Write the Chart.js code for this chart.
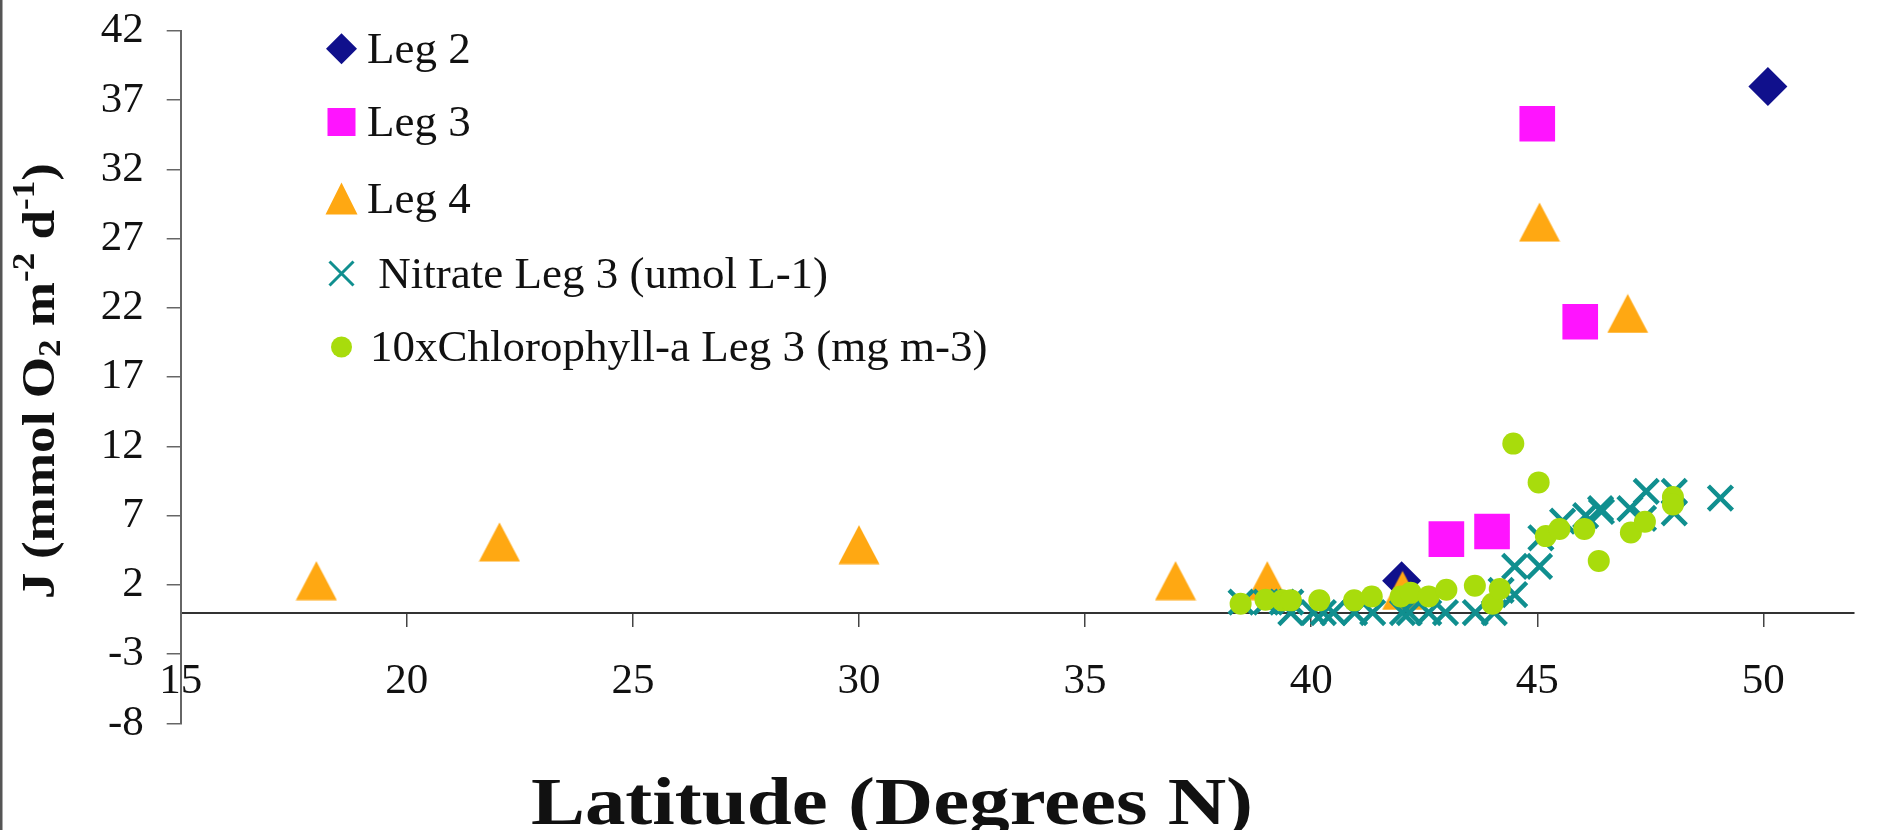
<!DOCTYPE html>
<html>
<head>
<meta charset="utf-8">
<script src="https://cdn.jsdelivr.net/npm/chart.js@4.4.1/dist/chart.umd.min.js"></script>
<style>
html,body{margin:0;padding:0;background:#fff;}
#wrap{width:1879px;height:830px;position:relative;}
canvas{display:block;}
</style>
</head>
<body>
<div id="wrap"><canvas id="c" width="1879" height="830"></canvas></div>
<script>
// ---- data ----
const xTickValues = [15, 20, 25, 30, 35, 40, 45, 50];
const yTickValues = [-8, -3, 2, 7, 12, 17, 22, 27, 32, 37, 42];

const seriesNames = ['Leg 2', 'Leg 3', 'Leg 4', ' Nitrate Leg 3 (umol L-1)', '10xChlorophyll-a Leg 3 (mg m-3)'];

const leg2 = [[42.0, 2.3], [50.1, 38.0]];
const leg3 = [[45.0, 35.3], [45.95, 21.0], [42.99, 5.3], [44.0, 5.85]];
const leg4 = [[18.0, 2.3], [22.05, 5.1], [30.0, 4.9], [37.0, 2.3], [39.03, 2.3], [42.02, 1.6], [45.05, 28.2], [47.0, 21.6]];
const nitrate = [
  [38.45, 0.75], [39.0, 0.75], [39.36, 0.75], [39.55, 0.75], [39.55, 0], [40.05, 0], [40.27, 0], [40.49, 0],
  [40.96, 0], [41.36, 0], [42.02, 0], [42.17, 0], [42.6, 0], [42.97, 0], [43.63, 0], [44.05, 0],
  [44.2, 1.6], [44.5, 1.3], [44.5, 3.33], [45.05, 3.33], [45.08, 5.4], [45.56, 6.6], [46.07, 7.0],
  [46.4, 7.5], [46.42, 7.3], [47.05, 7.5], [47.35, 6.8], [47.41, 8.75], [48.03, 8.75], [48.03, 7.2], [49.05, 8.27]
];
const chlorophyll = [
  [38.44, 0.64], [38.99, 0.92], [39.36, 0.88], [39.55, 0.88], [40.18, 0.88], [40.95, 0.88], [41.34, 1.16],
  [41.98, 1.16], [42.2, 1.42], [42.6, 1.16], [42.99, 1.65], [43.62, 1.93], [44.01, 0.64], [44.17, 1.7],
  [44.47, 12.2], [45.03, 9.4], [45.19, 5.52], [45.49, 6.03], [46.04, 6.04], [46.36, 3.73], [47.07, 5.78],
  [47.38, 6.56], [48.0, 8.35], [48.0, 7.8]
];

const xTitle = 'Latitude (Degrees N)';
const yTitleParts = [
  ['J (mmol O', 'n'], ['2', 'sub'], [' m', 'n'], ['-2', 'sup'], [' d', 'n'], ['-1', 'sup'], [')', 'n']
];

// ---- styles ----
const C_LEG2 = '#10108c';
const C_LEG3 = '#ff14ff';
const C_LEG4 = '#ffa812';
const C_NIT = '#108f8f';
const C_CHL = '#a8dc0c';
const SERIF = '"Liberation Serif", "Times New Roman", serif';

function toXY(arr) { return arr.map(p => ({x: p[0], y: p[1]})); }

function makeTriangle(w, h, color) {
  const c = document.createElement('canvas');
  c.width = w; c.height = h;
  const g = c.getContext('2d');
  g.fillStyle = color;
  g.beginPath();
  g.moveTo(w / 2, 0.5);
  g.lineTo(w - 0.5, h - 0.5);
  g.lineTo(0.5, h - 0.5);
  g.closePath();
  g.fill();
  return c;
}
const triImg = makeTriangle(42, 40, C_LEG4);

const decor = {
  id: 'decor',
  afterDraw(chart) {
    const ctx = chart.ctx;
    ctx.save();
    // left frame line
    ctx.fillStyle = '#555';
    ctx.fillRect(0, 0, 2.5, chart.height);

    // legend
    const lx = 341.5, rows = [48.7, 122, 198.5, 273.5, 347];
    ctx.fillStyle = C_LEG2;
    ctx.beginPath();
    ctx.moveTo(lx, rows[0] - 15.5); ctx.lineTo(lx + 15.5, rows[0]); ctx.lineTo(lx, rows[0] + 15.5); ctx.lineTo(lx - 15.5, rows[0]);
    ctx.closePath(); ctx.fill();
    ctx.fillStyle = C_LEG3;
    ctx.fillRect(lx - 14, rows[1] - 14, 28, 28);
    ctx.fillStyle = C_LEG4;
    ctx.beginPath();
    ctx.moveTo(lx, rows[2] - 16); ctx.lineTo(lx + 16, rows[2] + 16); ctx.lineTo(lx - 16, rows[2] + 16);
    ctx.closePath(); ctx.fill();
    ctx.strokeStyle = C_NIT; ctx.lineWidth = 3;
    ctx.beginPath();
    ctx.moveTo(lx - 12, rows[3] - 12); ctx.lineTo(lx + 12, rows[3] + 12);
    ctx.moveTo(lx + 12, rows[3] - 12); ctx.lineTo(lx - 12, rows[3] + 12);
    ctx.stroke();
    ctx.fillStyle = C_CHL;
    ctx.beginPath(); ctx.arc(lx, rows[4], 10.5, 0, Math.PI * 2); ctx.fill();

    ctx.fillStyle = '#111';
    ctx.font = '45px ' + SERIF;
    ctx.textAlign = 'left';
    ctx.textBaseline = 'alphabetic';
    const tx = [367, 367, 367, 367, 370];
    for (let i = 0; i < seriesNames.length; i++) {
      ctx.fillText(seriesNames[i], tx[i], rows[i] + 14);
    }

    // x title (slightly wide face)
    ctx.save();
    ctx.font = 'bold 68px ' + SERIF;
    ctx.textAlign = 'center';
    ctx.translate(892, 824);
    ctx.scale(1.19, 1);
    ctx.fillText(xTitle, 0, 0);
    ctx.restore();

    // y title (rotated, with sub/superscripts)
    const fs = 47, small = 0.65, sx = 1.13;
    const fontN = 'bold ' + fs + 'px ' + SERIF;
    const fontS = 'bold ' + Math.round(fs * small) + 'px ' + SERIF;
    let total = 0;
    const widths = yTitleParts.map(p => {
      ctx.font = p[1] === 'n' ? fontN : fontS;
      const w = ctx.measureText(p[0]).width;
      total += w;
      return w;
    });
    ctx.translate(54, 381);
    ctx.rotate(-Math.PI / 2);
    ctx.scale(sx, 1);
    ctx.textAlign = 'left';
    let x = -total / 2;
    yTitleParts.forEach((p, i) => {
      ctx.font = p[1] === 'n' ? fontN : fontS;
      let dy = 0;
      if (p[1] === 'sub') dy = fs * 0.12;
      if (p[1] === 'sup') dy = -fs * 0.42;
      ctx.fillText(p[0], x, dy);
      x += widths[i];
    });
    ctx.restore();
  }
};

const ctx = document.getElementById('c').getContext('2d');
new Chart(ctx, {
  type: 'scatter',
  data: {
    datasets: [
      { label: seriesNames[0], data: toXY(leg2), pointStyle: 'rectRot', pointRadius: 19.5, backgroundColor: C_LEG2, borderColor: C_LEG2, borderWidth: 0, order: 5 },
      { label: seriesNames[1], data: toXY(leg3), pointStyle: 'rect', pointRadius: 25.2, backgroundColor: C_LEG3, borderColor: C_LEG3, borderWidth: 0, order: 4 },
      { label: seriesNames[2], data: toXY(leg4), pointStyle: triImg, pointRadius: 21, backgroundColor: C_LEG4, borderColor: C_LEG4, borderWidth: 0, order: 3 },
      { label: seriesNames[3], data: toXY(nitrate), pointStyle: 'crossRot', pointRadius: 17, backgroundColor: C_NIT, borderColor: C_NIT, borderWidth: 4.5, order: 2 },
      { label: seriesNames[4], data: toXY(chlorophyll), pointStyle: 'circle', pointRadius: 11, backgroundColor: C_CHL, borderColor: C_CHL, borderWidth: 0, order: 1 }
    ]
  },
  options: {
    responsive: false,
    animation: false,
    devicePixelRatio: 1,
    layout: { padding: { left: 0, top: 31, right: 9, bottom: 106.7 } },
    plugins: { legend: { display: false }, tooltip: { enabled: false }, title: { display: false } },
    elements: { point: { hoverRadius: 0 } },
    scales: {
      x: {
        type: 'linear',
        position: { y: 0 },
        min: 15, max: 52,
        afterBuildTicks: s => { s.ticks = xTickValues.map(v => ({ value: v })); },
        afterFit: s => { s.paddingLeft = 0; s.paddingRight = 0; s.paddingTop = 0; s.paddingBottom = 0; },
        ticks: { font: { family: SERIF, size: 43 }, color: '#111', padding: 30, maxRotation: 0, autoSkip: false },
        grid: { drawOnChartArea: false, drawTicks: true, tickLength: 13, color: '#444', lineWidth: 1.5 },
        border: { display: true, color: '#333', width: 2 }
      },
      y: {
        type: 'linear',
        position: 'left',
        min: -8, max: 42,
        afterBuildTicks: s => { s.ticks = yTickValues.map(v => ({ value: v })); },
        afterFit: s => { s.width = 180.7; s.paddingTop = 0; s.paddingBottom = 0; s.paddingLeft = 0; s.paddingRight = 0; },
        ticks: { font: { family: SERIF, size: 43 }, color: '#111', padding: 23, autoSkip: false },
        grid: { drawOnChartArea: false, drawTicks: true, tickLength: 14, color: '#666', lineWidth: 1.5 },
        border: { display: true, color: '#666', width: 2 }
      }
    }
  },
  plugins: [decor]
});
</script>
</body>
</html>
